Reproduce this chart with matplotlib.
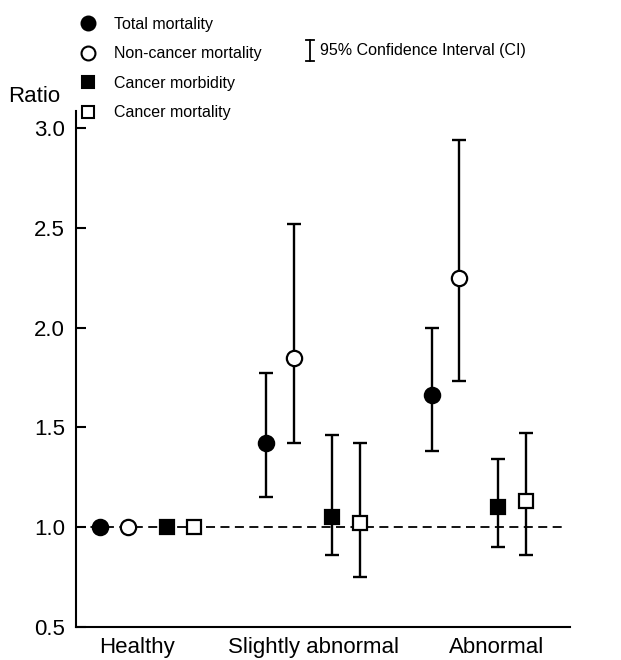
import numpy as np
import matplotlib
matplotlib.use("Agg")
import matplotlib.pyplot as plt
from matplotlib.lines import Line2D

plt.rcParams['font.family'] = ['Liberation Sans', 'DejaVu Sans']

# Risk ratios by health status group (Healthy is the reference group)
groups = ['Healthy', 'Slightly abnormal', 'Abnormal']
series = ['Total mortality', 'Non-cancer mortality', 'Cancer morbidity', 'Cancer mortality']

total_mort = [1.00, 1.42, 1.66]
total_lo = [1.00, 1.15, 1.38]
total_hi = [1.00, 1.77, 2.00]

noncancer_mort = [1.00, 1.85, 2.25]
noncancer_lo = [1.00, 1.42, 1.73]
noncancer_hi = [1.00, 2.52, 2.94]

cancer_morb = [1.00, 1.05, 1.10]
cancer_morb_lo = [1.00, 0.86, 0.90]
cancer_morb_hi = [1.00, 1.46, 1.34]

cancer_mort = [1.00, 1.02, 1.13]
cancer_mort_lo = [1.00, 0.75, 0.86]
cancer_mort_hi = [1.00, 1.42, 1.47]

values = [total_mort, noncancer_mort, cancer_morb, cancer_mort]
lows = [total_lo, noncancer_lo, cancer_morb_lo, cancer_mort_lo]
highs = [total_hi, noncancer_hi, cancer_morb_hi, cancer_mort_hi]
markers = ['o', 'o', 's', 's']
faces = ['black', 'white', 'black', 'white']
sizes = [11, 11, 10, 10]
offsets = [-0.283, -0.117, 0.117, 0.283]

W, H = 621, 660
fig = plt.figure(figsize=(W / 100, H / 100), dpi=100)
ax = fig.add_axes([76 / W, 1 - 627 / H, (570 - 76) / W, (627 - 111) / H])

x = np.arange(len(groups))

# reference line at ratio 1
ax.plot([-0.43, 2.52], [1, 1], color='black', lw=1.3, ls=(0, (5, 3)), zorder=1)

for vals, lo, hi, m, fc, ms, off in zip(values, lows, highs, markers, faces, sizes, offsets):
    vals = np.array(vals)
    yerr = np.vstack([vals - np.array(lo), np.array(hi) - vals])
    # only the non-reference groups carry a CI
    ax.errorbar(x[1:] + off, vals[1:], yerr=yerr[:, 1:], fmt='none', ecolor='black',
                elinewidth=1.7, capsize=5, capthick=1.7, zorder=2)
    ax.plot(x + off, vals, ls='none', marker=m, ms=ms, mfc=fc, mec='black',
            mew=1.6, zorder=3)

ax.set_xlim(-0.43, 2.55)
ax.set_ylim(0.5, 3.085)
ax.set_yticks([0.5, 1.0, 1.5, 2.0, 2.5, 3.0])
ax.set_yticklabels(['0.5', '1.0', '1.5', '2.0', '2.5', '3.0'], fontsize=16)
ax.tick_params(axis='y', direction='in', length=7, width=1.5, pad=8)
ax.set_xticks([-0.06, 1.0, 2.11])
ax.set_xticklabels(groups, fontsize=16)
ax.tick_params(axis='x', length=0, pad=7)

for side in ['top', 'right']:
    ax.spines[side].set_visible(False)
for side in ['left', 'bottom']:
    ax.spines[side].set_linewidth(1.5)

fig.text(8 / W, 1 - 97 / H, 'Ratio', fontsize=16, va='center', ha='left')

# legend for the four series
handles = [Line2D([], [], ls='none', marker=m, ms=ms - 1, mfc=fc, mec='black', mew=1.5)
           for m, fc, ms in zip(markers, faces, sizes)]
fig.legend(handles, series, loc='upper left', bbox_to_anchor=(80 / W, 1 - 17 / H),
           frameon=False, fontsize=11.5, handlelength=1.0, handletextpad=1.1,
           labelspacing=0.9, borderpad=0, borderaxespad=0)

# confidence interval key
ci_x, ci_top, ci_bot = 310 / W, 1 - 40 / H, 1 - 61 / H
cap = 4 / W
fig.add_artist(Line2D([ci_x, ci_x], [ci_bot, ci_top], color='black', lw=1.3))
fig.add_artist(Line2D([ci_x - cap, ci_x + cap], [ci_top, ci_top], color='black', lw=1.3))
fig.add_artist(Line2D([ci_x - cap, ci_x + cap], [ci_bot, ci_bot], color='black', lw=1.3))
fig.text(320 / W, 1 - 51 / H, '95% Confidence Interval (CI)', fontsize=11.5, va='center', ha='left')

fig.savefig('out.png', dpi=100)
